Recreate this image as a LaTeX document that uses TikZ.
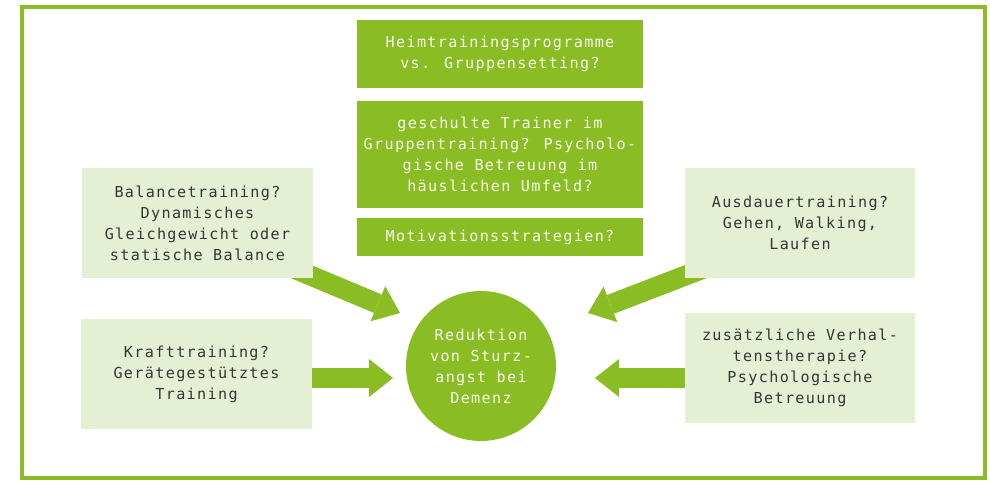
\documentclass[tikz,border=0pt]{standalone}
\usepackage{fontspec}
\newfontfamily\boxfont[LetterSpace=9]{DejaVu Sans Mono}
\usetikzlibrary{positioning,arrows.meta,backgrounds,calc}
\definecolor{gruen}{HTML}{8ABD24}
\definecolor{hellgruen}{HTML}{E5EFD3}
\definecolor{schrift}{HTML}{363636}
\begin{document}
\begin{tikzpicture}[x=0.02cm, y=-0.02cm,
	frage/.style={fill=gruen, text=white!92!gruen, align=center, minimum width=5.72cm, font=\boxfont\fontsize{8.6pt}{11.95pt}\selectfont},
	punkt/.style={fill=hellgruen, text=schrift, align=center, minimum width=4.62cm, minimum height=2.2cm, font=\boxfont\fontsize{8.6pt}{11.95pt}\selectfont},
	ziel/.style={circle, fill=gruen, text=white!92!gruen, align=center, minimum size=3cm, font=\boxfont\fontsize{8.6pt}{11.95pt}\selectfont},
	pfeil/.style={draw=gruen, line width=0.4cm, -{Triangle[length=0.48cm, width=0.76cm, line width=0pt]}}]
	\useasboundingbox (0,0) rectangle (990,480);
	\draw[gruen, line width=0.08cm] (22,7) rectangle (985,478);
	\node[frage, minimum height=1.36cm] (Q1) at (500,54) {Heimtrainingsprogramme\\vs. Gruppensetting?};
	\node[frage, minimum height=2.14cm, below=0.24cm of Q1] (Q2) {geschulte Trainer im\\Gruppentraining? Psycholo-\\gische Betreuung im\\häuslichen Umfeld?};
	\node[frage, minimum height=0.76cm, below=0.2cm of Q2] (Q3) {Motivationsstrategien?};
	\node[punkt] (Bal) at (197.5,223) {Balancetraining?\\Dynamisches\\Gleichgewicht oder\\statische Balance};
	\node[punkt] (Kraft) at (196.5,374) {Krafttraining?\\Gerätegestütztes\\Training};
	\node[punkt] (Aus) at (800,223) {Ausdauertraining?\\Gehen, Walking,\\Laufen};
	\node[punkt] (Verh) at (800,368) {zusätzliche Verhal-\\tenstherapie?\\Psychologische\\Betreuung};
	\node[ziel] (Z) at (481,366) {Reduktion\\von Sturz-\\angst bei\\Demenz};
	\coordinate (T1) at (400,313);
	\coordinate (T2) at (393,378);
	\coordinate (T3) at (588,313);
	\coordinate (T4) at (595,378);
	\begin{scope}[on background layer]
		\draw[pfeil] ($(Bal.south east)+(-20,-10)$) -- (T1);
		\draw[pfeil] (Kraft.center |- T2) -- (T2);
		\draw[pfeil] ($(Aus.south west)+(20,-10)$) -- (T3);
		\draw[pfeil] (Verh.center |- T4) -- (T4);
	\end{scope}
\end{tikzpicture}
\end{document}
